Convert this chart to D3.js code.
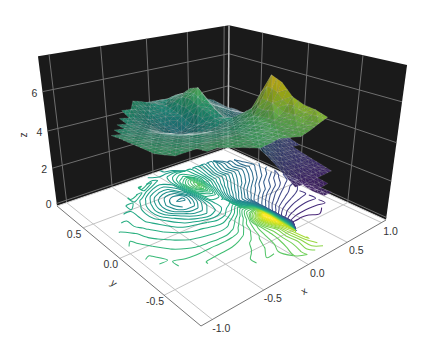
<!DOCTYPE html>
<html><head><meta charset="utf-8">
<script src="https://cdn.jsdelivr.net/npm/d3@7"></script>
<style>html,body{margin:0;padding:0;background:#fff}svg{display:block}text{font-family:"Liberation Sans",Arial,sans-serif}</style>
</head><body><svg id="c" width="423" height="346"></svg>
<script>
const xTicks=[-1,-0.5,0,0.5,1], yTicks=[-0.5,0,0.5], zTicks=[0,2,4,6];
const xRange=[-1.1,1.07], yRange=[-0.85,0.92], zRange=[-0.15,7.7];
const _=null;
const gridX=[-0.9,-0.8,-0.7,-0.6,-0.5,-0.4,-0.3,-0.2,-0.1,0,0.1,0.2,0.3,0.4,0.5,0.6,0.7,0.8,0.9,1.0];
const gridY=[0.88,0.78,0.68,0.58,0.48,0.38,0.28,0.18,0.08,-0.02,-0.12,-0.22,-0.32,-0.42,-0.52,-0.62,-0.72];
const gridZ=[
[_,_,_,_,_,_,_,_,4.35,4.3,4.25,4.15,_,_,_,_,_,_,_,_],
[_,_,_,_,_,_,4.85,4.7,4.5,4.4,4.5,4.6,4.6,4.4,4.2,3.95,3.75,_,_,_],
[_,_,_,_,4.75,4.7,4.5,4.35,4.3,4.4,4.7,4.85,4.65,4.4,4.15,3.85,3.6,3.35,3.15,_],
[_,_,_,4.65,4.55,4.4,4.2,4.1,4.1,4.3,4.95,5.3,4.75,4.35,4.05,3.75,3.5,3.3,3.1,2.95],
[_,_,4.65,4.55,4.45,4.25,4.0,3.85,3.85,4.2,5.0,5.5,4.65,4.3,4.05,3.8,3.55,3.35,3.15,3.0],
[_,4.72,4.65,4.55,4.4,4.15,3.9,3.7,3.65,4.0,4.8,5.05,4.45,4.1,3.85,3.6,3.4,3.2,3.0,2.85],
[4.8,4.72,4.65,4.55,4.42,4.2,3.95,3.8,3.8,4.1,4.65,4.7,4.2,3.85,3.6,3.4,3.2,3.0,2.85,2.7],
[4.88,4.8,4.7,4.62,4.52,4.38,4.22,4.05,4.05,4.25,4.5,4.45,3.9,3.6,3.3,3.1,2.9,2.75,2.6,2.45],
[4.92,4.84,4.75,4.68,4.6,4.5,4.4,4.3,4.25,4.35,4.5,4.6,3.6,3.3,3.05,2.9,2.75,2.6,2.45,2.35],
[4.97,4.9,4.83,4.76,4.7,4.65,4.63,4.57,4.52,4.55,4.7,5.0,4.2,3.0,2.8,2.6,2.45,2.35,2.25,2.2],
[5.02,4.96,4.89,4.84,4.79,4.76,4.74,4.72,4.72,4.85,5.05,5.45,5.8,2.75,2.5,2.35,2.25,2.18,2.12,_],
[5.05,5.0,4.96,4.92,4.89,4.87,4.85,4.85,4.92,5.1,5.35,6.1,7.1,2.45,2.2,2.1,2.05,2.02,2.0,_],
[_,5.03,5.04,5.04,5.05,5.06,5.06,5.08,5.12,5.25,5.5,6.05,6.9,2.1,1.95,1.9,1.88,1.88,1.9,_],
[_,_,_,5.14,5.15,5.15,5.16,5.19,5.26,5.37,5.55,5.8,6.4,1.75,1.7,1.72,1.74,1.76,1.78,_],
[_,_,_,_,_,5.23,5.2,5.25,5.33,5.43,5.58,5.85,6.2,_,1.6,1.62,1.68,_,_,_],
[_,_,_,_,_,_,5.27,5.33,5.4,5.5,5.62,5.8,6.15,_,1.65,1.65,_,_,_,_],
[_,_,_,_,_,_,_,_,_,5.55,5.68,5.85,6.0,_,_,_,_,_,_,_]
];
const camera=[[317.9,-121.2,-32.3,201],[-30.2,-37.6,-218,326],[0.3444,0.4001,-0.149,1]];
const U=d3.scaleLinear().domain(xRange).range([0,1]);
const V=d3.scaleLinear().domain(yRange).range([0,1]);
const T=d3.scaleLinear().domain(zRange).range([0,1]);
function hom(x,y,z){const p=[U(x),V(y),T(z),1];return camera.map(r=>d3.sum(r,(c,i)=>c*p[i]));}
function proj(x,y,z){const h=hom(x,y,z);return [h[0]/h[2],h[1]/h[2]];}
const svg=d3.select("#c");
const poly=pts=>pts.map(p=>p.map(v=>v.toFixed(2)).join(",")).join(" ");
const [x0,x1]=xRange,[y0,y1]=yRange,[z0,z1]=zRange;

svg.append("polygon").attr("points",poly([proj(x0,y1,z0),proj(x1,y1,z0),proj(x1,y1,z1),proj(x0,y1,z1)])).attr("fill","#1a1a1a");
svg.append("polygon").attr("points",poly([proj(x1,y0,z0),proj(x1,y1,z0),proj(x1,y1,z1),proj(x1,y0,z1)])).attr("fill","#1a1a1a");
const seg=(g,a,b,col,w)=>g.append("line").attr("x1",a[0]).attr("y1",a[1]).attr("x2",b[0]).attr("y2",b[1]).attr("stroke",col).attr("stroke-width",w);
const grid=svg.append("g");
const wallCol="#6e6e6e", floorCol="#c4c4c4";
xTicks.forEach(x=>{seg(grid,proj(x,y1,z0),proj(x,y1,z1),wallCol,1);seg(grid,proj(x,y0,z0),proj(x,y1,z0),floorCol,1);});
yTicks.forEach(y=>{seg(grid,proj(x1,y,z0),proj(x1,y,z1),wallCol,1);seg(grid,proj(x0,y,z0),proj(x1,y,z0),floorCol,1);});
zTicks.forEach(z=>{seg(grid,proj(x0,y1,z),proj(x1,y1,z),wallCol,1);seg(grid,proj(x1,y0,z),proj(x1,y1,z),wallCol,1);});
seg(grid,proj(x1,y1,z0),proj(x1,y1,z1),"#b8b8b8",1.5);
seg(grid,proj(x0,y1,z0),proj(x1,y1,z0),"#d8d8d8",1);
seg(grid,proj(x1,y1,z0),proj(x1,y0,z0),"#d8d8d8",1);
seg(grid,proj(x0,y0,z0),proj(x0,y1,z0),"#777",1);
seg(grid,proj(x0,y0,z0),proj(x1,y0,z0),"#777",1);

const colour=d3.scaleSequential(d3.interpolateViridis).domain([1.1,6.9]);
const levels=d3.range(1.6,7.0,0.11);
const nx=gridX.length, ny=gridY.length, flat=gridZ.flat();
const half=v=>Math.abs(v-Math.floor(v)-0.5)<1e-6;
const onEdge=p=>(half(p[0])&&half(p[1]))||p[0]<=0||p[1]<=0||p[0]>=nx||p[1]>=ny;
const dataX=d3.scaleLinear().domain([0,nx-1]).range([gridX[0],gridX[nx-1]]);
const dataY=d3.scaleLinear().domain([0,ny-1]).range([gridY[0],gridY[ny-1]]);
const floorPt=p=>proj(dataX(p[0]-.5),dataY(p[1]-.5),z0);
const line=d3.line().x(p=>floorPt(p)[0]).y(p=>floorPt(p)[1]).curve(d3.curveCatmullRom.alpha(0.5));
const gc=svg.append("g").attr("fill","none").attr("stroke-width",1.05).attr("stroke-linejoin","round");
d3.contours().size([nx,ny]).thresholds(levels)(flat).forEach(mp=>{
  mp.coordinates.forEach(poly2=>poly2.forEach(ring=>{
    const pts=ring.slice(0,-1), n=pts.length, flags=pts.map(onEdge);
    const start=flags.indexOf(true);
    if(start<0){gc.append("path").attr("d",line(ring)).attr("stroke",colour(mp.value));return;}
    let run=[];
    for(let k=0;k<=n;k++){
      const idx=(start+k)%n;
      if(flags[idx]){ if(run.length){ run.push(pts[idx]); if(run.length>2) gc.append("path").attr("d",line(run)).attr("stroke",colour(mp.value)); } run=[pts[idx]]; if(k===n) break; const nextBad=flags[(idx+1)%n]; if(nextBad) run=[]; }
      else run.push(pts[idx]);
    }
  }));
});

const mid=(a,b)=>a.map((v,i)=>(v+b[i])/2);
const tris=[];
function addTri(v,shade){
  const zm=d3.mean(v,p=>p[2]);
  const rgb=d3.rgb(colour(zm));
  const c=[d3.mean(v,p=>p[0]),d3.mean(v,p=>p[1]),zm];
  tris.push({pts:v.map(p=>proj(...p)),w:hom(...c)[2],fill:d3.rgb(rgb.r*shade,rgb.g*shade,rgb.b*shade).formatHex()});
}
for(let j=0;j<ny-1;j++)for(let i=0;i<nx-1;i++){
  const q=[[i,j],[i+1,j],[i+1,j+1],[i,j+1]];
  const sets=(i+j)%2?[[q[0],q[1],q[2]],[q[0],q[2],q[3]]]:[[q[0],q[1],q[3]],[q[1],q[2],q[3]]];
  sets.forEach(t=>{
    const v=t.map(([a,b])=>[gridX[a],gridY[b],gridZ[b][a]]);
    if(v.some(p=>p[2]==null))return;
    const zs=v.map(p=>p[2]);
    if(d3.max(zs)-d3.min(zs)>1.9)return;
    const e1=[v[1][0]-v[0][0],v[1][1]-v[0][1],(v[1][2]-v[0][2])/3.5], e2=[v[2][0]-v[0][0],v[2][1]-v[0][1],(v[2][2]-v[0][2])/3.5];
    let nrm=[e1[1]*e2[2]-e1[2]*e2[1],e1[2]*e2[0]-e1[0]*e2[2],e1[0]*e2[1]-e1[1]*e2[0]];
    if(nrm[2]<0)nrm=nrm.map(a=>-a);
    const len=Math.hypot(...nrm), L=[-0.35,-0.45,0.82];
    const shade=0.45+0.4*Math.max(0,(nrm[0]*L[0]+nrm[1]*L[1]+nrm[2]*L[2])/len);
    const m01=mid(v[0],v[1]),m12=mid(v[1],v[2]),m20=mid(v[2],v[0]);
    [[v[0],m01,m20],[m01,v[1],m12],[m20,m12,v[2]],[m01,m12,m20]].forEach(s=>addTri(s,shade));
  });
}
tris.sort((a,b)=>b.w-a.w);
svg.append("g").selectAll("polygon").data(tris).join("polygon")
  .attr("points",d=>poly(d.pts)).attr("fill",d=>d.fill).attr("fill-opacity",0.95)
  .attr("stroke","#fff").attr("stroke-opacity",0.3).attr("stroke-width",0.4);

const label=(p,dx,dy,t)=>svg.append("text").attr("x",p[0]+dx).attr("y",p[1]+dy).attr("text-anchor","middle").attr("dominant-baseline","central").attr("font-size",10.5).attr("fill","#333").text(t);
const fmt=v=>d3.format(".1f")(v).replace("\u2212","-");
xTicks.forEach(x=>label(proj(x,y0,z0),9,8,fmt(x)));
yTicks.forEach(y=>label(proj(x0,y,z0),-9,6,fmt(y)));
zTicks.forEach(z=>label(proj(x0,y1,z),-8,1,String(z)));
const axisName=(x,y,r,t)=>svg.append("text").attr("transform",`translate(${x},${y}) rotate(${r})`).attr("text-anchor","middle").attr("dominant-baseline","central").attr("font-size",10).attr("fill","#333").text(t);
axisName(304,291,-30,"x");axisName(114,283,40,"y");axisName(23,135,-90,"z");
</script></body></html>
